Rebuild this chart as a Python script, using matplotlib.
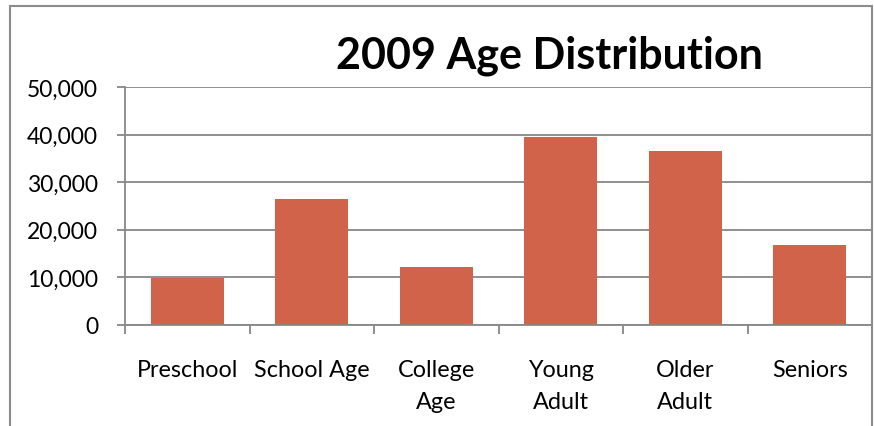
import matplotlib
matplotlib.use("Agg")
import matplotlib.pyplot as plt
from matplotlib.patches import Rectangle
from matplotlib.ticker import FuncFormatter, FixedLocator

categories = ["Preschool", "School Age", "College\nAge", "Young\nAdult", "Older\nAdult", "Seniors"]
population = [9800, 26400, 12100, 39450, 36500, 16800]
y_ticks = [0, 10000, 20000, 30000, 40000, 50000]

bar_color = "#D0634A"
grid_color = "#878787"

plt.rcParams["font.family"] = ["Lato", "DejaVu Sans"]

W, H = 874, 427
PX = 72 / 100  # points per pixel at 100 dpi
fig = plt.figure(figsize=(W / 100, H / 100), dpi=100)
fig.patch.set_facecolor("white")

# outer chart frame
fig.patches.append(Rectangle((10 / W, -0.05), (872 - 10) / W, 1.05 - 7 / H,
                             transform=fig.transFigure, fill=False,
                             edgecolor="#8C8C8C", linewidth=1.5))

left, right, top, bottom = 125, 872, 88.3, 325.5
ax = fig.add_axes([left / W, 1 - bottom / H, (right - left) / W, (bottom - top) / H])

x = list(range(len(categories)))
ax.bar(x, population, width=0.59, color=bar_color, zorder=3)

ax.set_xlim(-0.5, len(categories) - 0.5)
ax.set_ylim(0, 50000)
ax.set_yticks(y_ticks)
ax.yaxis.set_major_formatter(FuncFormatter(lambda v, p: f"{int(v):,}"))
ax.grid(axis="y", color=grid_color, linewidth=1.3, zorder=0)

ax.set_xticks(x)
ax.set_xticklabels(categories, fontsize=16.8, linespacing=1.62, va="top")
ax.xaxis.set_minor_locator(FixedLocator([i - 0.5 for i in range(len(categories) + 1)]))
ax.tick_params(axis="x", which="major", length=0, pad=25)
ax.tick_params(axis="x", which="minor", length=9 * PX, width=1.3, color=grid_color)
ax.tick_params(axis="y", length=8 * PX, width=1.3, color=grid_color, pad=19 * PX,
               labelsize=16.5)

for side in ("top", "right"):
    ax.spines[side].set_visible(False)
for side in ("left", "bottom"):
    ax.spines[side].set_color(grid_color)
    ax.spines[side].set_linewidth(1.3)
    ax.spines[side].set_zorder(4)

fig.text(549 / W, 1 - 68 / H, "2009 Age Distribution", ha="center", va="baseline",
         fontsize=31, fontweight="bold")

fig.savefig("out.png", dpi=100)
